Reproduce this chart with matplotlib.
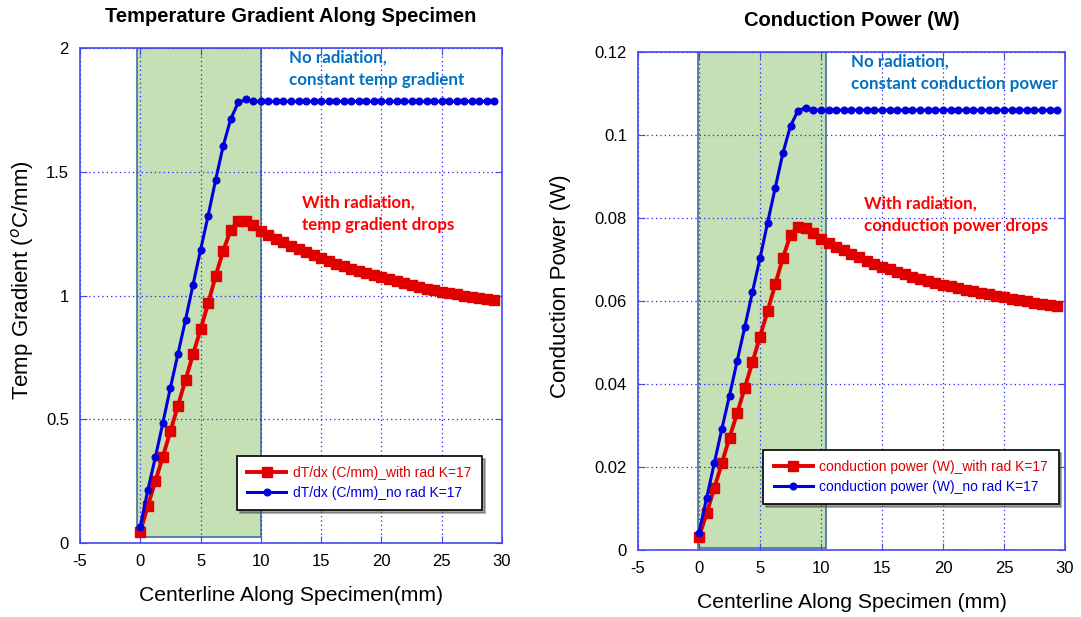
import matplotlib
matplotlib.use("Agg")
import matplotlib.pyplot as plt
from matplotlib.patches import Rectangle

plt.rcParams['font.family'] = ['Liberation Sans', 'DejaVu Sans']
plt.rcParams['mathtext.fontset'] = 'custom'
plt.rcParams['mathtext.rm'] = 'Liberation Sans'
plt.rcParams['axes.unicode_minus'] = False

# positions along the specimen (mm), one every 0.625 mm
x_mm = [0.0, 0.625, 1.25, 1.875, 2.5, 3.125, 3.75, 4.375, 5.0, 5.625, 6.25, 6.875,
        7.5, 8.125, 8.75, 9.375, 10.0, 10.625, 11.25, 11.875, 12.5, 13.125, 13.75,
        14.375, 15.0, 15.625, 16.25, 16.875, 17.5, 18.125, 18.75, 19.375, 20.0,
        20.625, 21.25, 21.875, 22.5, 23.125, 23.75, 24.375, 25.0, 25.625, 26.25,
        26.875, 27.5, 28.125, 28.75, 29.375]

# temperature gradient (C/mm)
grad_rad = [0.046, 0.150, 0.250, 0.349, 0.452, 0.555, 0.659, 0.762, 0.863, 0.968,
            1.079, 1.180, 1.265, 1.302, 1.299, 1.285,
            1.262, 1.246, 1.230, 1.215, 1.201, 1.187, 1.174, 1.162, 1.150,
            1.139, 1.129, 1.119, 1.109, 1.099, 1.090, 1.081, 1.073,
            1.065, 1.057, 1.050, 1.043, 1.035, 1.028, 1.021, 1.015,
            1.010, 1.005, 1.000, 0.995, 0.991, 0.986, 0.982]
grad_norad = [0.066, 0.214, 0.346, 0.486, 0.628, 0.764, 0.901, 1.044, 1.184, 1.322,
              1.467, 1.604, 1.713, 1.780, 1.792] + [1.784] * 33

# conduction power (W)
pow_rad = [0.0032, 0.0088, 0.0149, 0.0209, 0.0271, 0.0329, 0.0391, 0.0452, 0.0514,
           0.0576, 0.0640, 0.0704, 0.0759, 0.0779, 0.0777, 0.0765,
           0.0750, 0.0740, 0.0731, 0.0722, 0.0714, 0.0705, 0.0697, 0.0690, 0.0683,
           0.0677, 0.0671, 0.0665, 0.0659, 0.0654, 0.0649, 0.0644, 0.0639,
           0.0635, 0.0631, 0.0627, 0.0623, 0.0619, 0.0616, 0.0612, 0.0609,
           0.0605, 0.0602, 0.0599, 0.0596, 0.0593, 0.0590, 0.0587]
pow_norad = [0.0042, 0.0125, 0.0209, 0.0292, 0.0372, 0.0455, 0.0537, 0.0621, 0.0703,
             0.0789, 0.0873, 0.0956, 0.1022, 0.1059, 0.1066] + [0.1060] * 33

RED = '#e00000'
BLUE = '#0000dd'
AXBLUE = '#4848f0'
NOTE_BLUE = '#0070c0'
NOTE_RED = '#ff0000'

fig = plt.figure(figsize=(10.81, 6.17), dpi=100)
W, H = 1081, 617


def make_axes(px_left, px_right, px_top, px_bottom):
    return fig.add_axes([px_left / W, (H - px_bottom) / H,
                         (px_right - px_left) / W, (px_bottom - px_top) / H])


def style(ax, ylim, yticks, xlabel, ylabel, title, ylab_x):
    ax.set_xlim(-5, 30)
    ax.set_ylim(*ylim)
    ax.set_xticks(range(-5, 31, 5))
    ax.set_yticks(yticks)
    ax.grid(True, color='#2020ff', linestyle=(0, (1, 2.5)), linewidth=0.9)
    for sp in ax.spines.values():
        sp.set_color(AXBLUE)
        sp.set_linewidth(1.2)
    ax.tick_params(direction='in', length=5, color=AXBLUE, top=True, right=True,
                   labelsize=12, labelcolor='black', pad=8)
    ax.set_xlabel(xlabel, fontsize=15.2, labelpad=12)
    ax.set_ylabel(ylabel, fontsize=16)
    ax.yaxis.set_label_coords(ylab_x, 0.53)
    ax.set_title(title, fontsize=14.5, fontweight='bold', pad=19)


def add_curves(ax, yr, yb, lab_r, lab_b, legend_anchor):
    ax.plot(x_mm, yr, color=RED, lw=2.8, marker='s', ms=6.5, label=lab_r, zorder=3)
    ax.plot(x_mm, yb, color=BLUE, lw=2.2, marker='o', ms=4.8, label=lab_b, zorder=4)
    leg = ax.legend(loc='lower left', bbox_to_anchor=legend_anchor, fontsize=10,
                    frameon=True, fancybox=False, shadow=True, edgecolor='black',
                    framealpha=1, handlelength=2.8, handletextpad=0.5,
                    borderpad=0.75, labelspacing=0.4)
    leg.get_frame().set_linewidth(1.2)
    for txt, c in zip(leg.get_texts(), [RED, BLUE]):
        txt.set_color(c)


def note(ax, x, y, s, color):
    ax.text(x, y, s, color=color, fontsize=12.2, fontweight='bold', family='Lato',
            va='top', linespacing=1.55)


# left panel: temperature gradient
ax1 = make_axes(80, 502, 48, 543)
ax1.add_patch(Rectangle((-0.27, 0.023), 10.27, 1.977, facecolor='#c5e0b4',
                        edgecolor='#41719c', lw=1.2, zorder=1))
style(ax1, (0, 2), [0, 0.5, 1, 1.5, 2],
      'Centerline Along Specimen(mm)', 'Temp Gradient ($^{o}$C/mm)',
      'Temperature Gradient Along Specimen', -0.105)
ax1.set_yticklabels(['0', '0.5', '1', '1.5', '2'])
add_curves(ax1, grad_rad, grad_norad, 'dT/dx (C/mm)_with rad K=17',
           'dT/dx (C/mm)_no rad K=17', (0.355, 0.052))
note(ax1, 12.3, 1.995, 'No radiation,\nconstant temp gradient', NOTE_BLUE)
note(ax1, 13.4, 1.41, 'With radiation,\ntemp gradient drops', NOTE_RED)

# right panel: conduction power
ax2 = make_axes(638, 1065, 52, 550)
ax2.add_patch(Rectangle((-0.1, 0.0005), 10.5, 0.1195, facecolor='#c5e0b4',
                        edgecolor='#41719c', lw=1.2, zorder=1))
style(ax2, (0, 0.12), [0, 0.02, 0.04, 0.06, 0.08, 0.1, 0.12],
      'Centerline Along Specimen (mm)', 'Conduction Power (W)',
      'Conduction Power (W)', -0.157)
ax2.set_yticklabels(['0', '0.02', '0.04', '0.06', '0.08', '0.1', '0.12'])
add_curves(ax2, pow_rad, pow_norad, 'conduction power (W)_with rad K=17',
           'conduction power (W)_no rad K=17', (0.277, 0.078))
note(ax2, 12.5, 0.1197, 'No radiation,\nconstant conduction power', NOTE_BLUE)
note(ax2, 13.5, 0.0855, 'With radiation,\nconduction power drops', NOTE_RED)

fig.savefig('out.png', dpi=100)
